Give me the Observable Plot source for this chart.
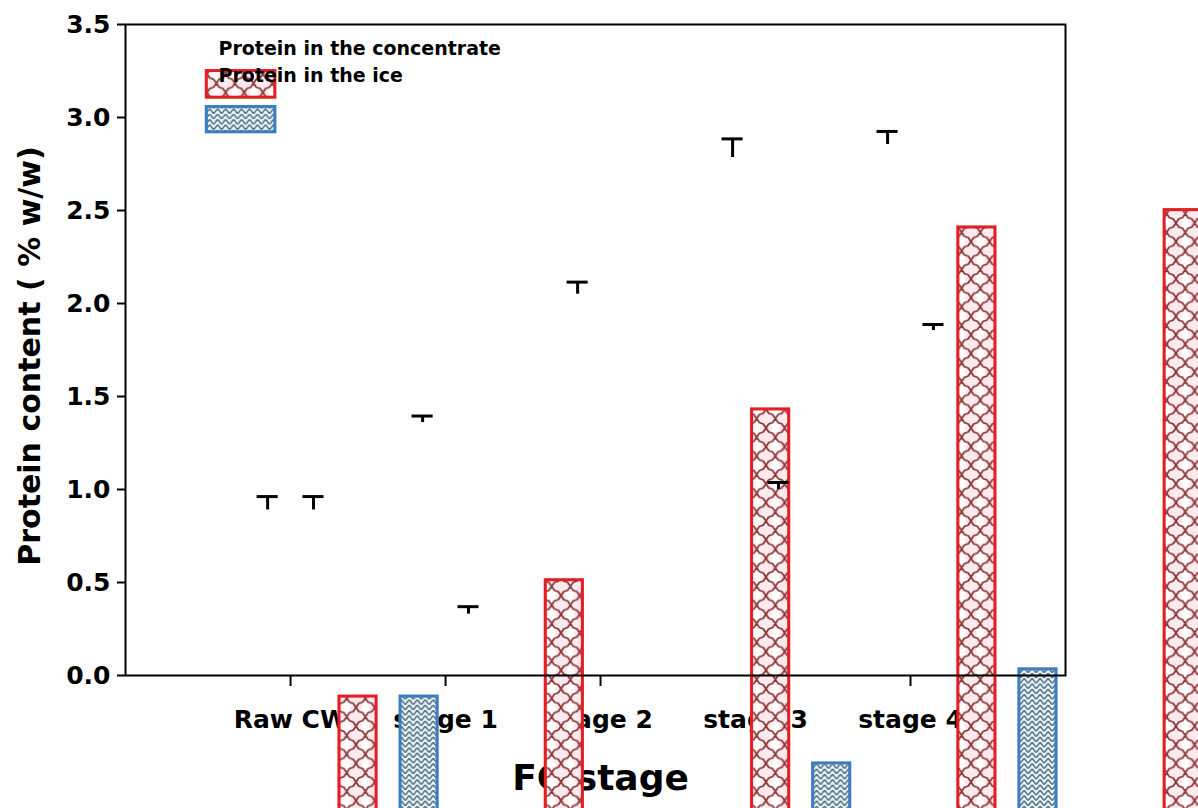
<!DOCTYPE html>
<html><head><meta charset="utf-8">
<script src="https://cdn.jsdelivr.net/npm/d3@7"></script>
<script src="https://cdn.jsdelivr.net/npm/@observablehq/plot@0.6"></script>
<style>
html,body{margin:0;padding:0;background:#fff;overflow:hidden}
#wrap{position:relative;width:1198px;height:808px;overflow:hidden;background:#fff}
#wrap > svg{position:absolute;left:0;top:0}
</style></head><body><div id="wrap"></div>
<script>
// ---- data ----
const stages = ["Raw CW", "stage 1", "stage 2", "stage 3", "stage 4"];
const concentrateMean = [0.89, 1.36, 2.05, 2.785, 2.855];
const concentrateSD   = [0.072, 0.035, 0.065, 0.10, 0.07];
const iceMean = [0.89, 0.33, 0.62, 1.0, 1.855];
const iceSD   = [0.072, 0.04, null, 0.038, 0.032];
const seriesNames = ["Protein in the concentrate", "Protein in the ice"];
const yTicks = [0, 0.5, 1, 1.5, 2, 2.5, 3, 3.5];
const axisTitleX = "FC stage";
const axisTitleY = "Protein content ( % w/w)";

const rows = [];
stages.forEach((s, i) => {
  rows.push({stage: s, idx: i + 1, series: seriesNames[0], off: -1, mean: concentrateMean[i], sd: concentrateSD[i]});
  rows.push({stage: s, idx: i + 1, series: seriesNames[1], off: 1, mean: iceMean[i], sd: iceSD[i]});
});
const conc = rows.filter(d => d.off < 0);
const ice = rows.filter(d => d.off > 0);
const errRows = rows.filter(d => d.sd != null);

const W = 1198, H = 808;
const FONT = "DejaVu Sans";
const common = {
  width: W, height: H, marginLeft: 125, marginRight: 133, marginTop: 24, marginBottom: 133,
  style: {fontFamily: FONT, fontWeight: "bold", background: "transparent", overflow: "visible", color: "black"}
};
const xDomain = [-0.065, 6], yDomain = [0, 3.5];
const SHIFT = 0.148, HALF = 0.09, CAP = 0.068;
const cx = d => d.idx + d.off * SHIFT;

const wrap = document.getElementById("wrap");

// ---- base layer: axes & titles ----
const baseLayer = Plot.plot({
  ...common,
  x: {domain: xDomain}, y: {domain: yDomain},
  marks: [
    Plot.axisY({ticks: yTicks, tickFormat: d => d.toFixed(1), tickSize: 8, tickPadding: 7, fontSize: 25, strokeWidth: 2, label: null}),
    Plot.axisX({ticks: stages.map((s, i) => i + 1), tickFormat: i => stages[i - 1], tickSize: 11, tickPadding: 24, fontSize: 25, strokeWidth: 2, label: null}),
    Plot.text([axisTitleY], {frameAnchor: "left", dx: -95, dy: 6, rotate: -90, textAnchor: "middle", fontSize: 30, text: d => d, fill: "black"}),
    Plot.text([axisTitleX], {frameAnchor: "bottom", dx: 5, dy: 114, textAnchor: "middle", fontSize: 36, text: d => d, fill: "black"})
  ]
});
wrap.appendChild(baseLayer);

// ---- bars layer (drawn with a zoom offset, as in the reference) ----
const barLayer = Plot.plot({
  ...common,
  x: {domain: xDomain, axis: null}, y: {domain: yDomain, axis: null},
  marks: [
    Plot.rectY(conc, {x1: d => cx(d) - HALF, x2: d => cx(d) + HALF, y1: 0, y2: "mean", fill: "url(#patR)", stroke: "#e41e24", strokeWidth: 2.3}),
    Plot.rectY(ice, {x1: d => cx(d) - HALF, x2: d => cx(d) + HALF, y1: 0, y2: "mean", fill: "url(#patB)", stroke: "#3b7dbf", strokeWidth: 2.3})
  ]
});
const sb = d3.select(barLayer);
const defs = sb.insert("defs", ":first-child");
const pr = defs.append("pattern").attr("id", "patR").attr("patternUnits", "userSpaceOnUse").attr("width", 14).attr("height", 14);
pr.append("rect").attr("width", 14).attr("height", 14).attr("fill", "#fdeaee");
pr.append("circle").attr("cx", 7).attr("cy", 2.5).attr("r", 3.2).attr("fill", "#ffffff");
pr.append("circle").attr("cx", 7).attr("cy", 11.5).attr("r", 3.2).attr("fill", "#ffffff");
pr.append("path").attr("d", "M0,0 L2,3 L5,4 L7,7 L9,10 L12,11 L14,14 M14,0 L12,3 L9,4 L7,7 L5,10 L2,11 L0,14")
  .attr("fill", "none").attr("stroke", "#8c3a3c").attr("stroke-width", 1.4);
const pb = defs.append("pattern").attr("id", "patB").attr("patternUnits", "userSpaceOnUse").attr("width", 6).attr("height", 4);
pb.append("rect").attr("width", 6).attr("height", 4).attr("fill", "#ebfafd");
pb.append("path").attr("d", "M0,0 L3,4 L6,0").attr("fill", "none").attr("stroke", "#4f6679").attr("stroke-width", 1.1);
// legend swatches (same zoomed layer)
const lg = sb.append("g");
lg.append("rect").attr("x", 153.5).attr("y", 39.5).attr("width", 51.5).attr("height", 20)
  .attr("fill", "url(#patR)").attr("stroke", "#e41e24").attr("stroke-width", 2.3);
lg.append("rect").attr("x", 153.5).attr("y", 66.5).attr("width", 51.5).attr("height", 19)
  .attr("fill", "url(#patB)").attr("stroke", "#3b7dbf").attr("stroke-width", 2.3);
barLayer.style.transformOrigin = "0 0";
barLayer.style.transform = "translate(2px,18px) scale(1.331)";
wrap.appendChild(barLayer);

// ---- top layer: frame, error caps, legend text ----
const capLayer = Plot.plot({
  ...common,
  x: {domain: xDomain, axis: null}, y: {domain: yDomain, axis: null},
  marks: [
    Plot.frame({stroke: "black", strokeWidth: 2}),
    Plot.ruleX(errRows, {x: cx, y1: "mean", y2: d => d.mean + d.sd, stroke: "black", strokeWidth: 3}),
    Plot.ruleY(errRows, {y: d => d.mean + d.sd, x1: d => cx(d) - CAP, x2: d => cx(d) + CAP, stroke: "black", strokeWidth: 3}),
    Plot.text([seriesNames[0]], {frameAnchor: "top-left", dx: 93, dy: 17, lineAnchor: "top", textAnchor: "start", fontSize: 19, text: d => d, fill: "black"}),
    Plot.text([seriesNames[1]], {frameAnchor: "top-left", dx: 93, dy: 44, lineAnchor: "top", textAnchor: "start", fontSize: 19, text: d => d, fill: "black"})
  ]
});
wrap.appendChild(capLayer);
</script></body></html>
